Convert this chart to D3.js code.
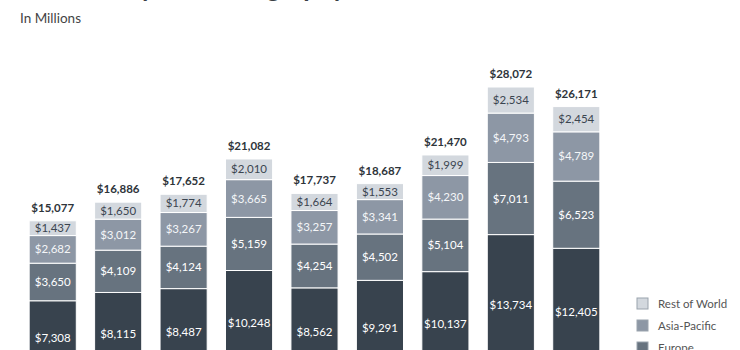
<!DOCTYPE html>
<html>
<head>
	<title>Revenue by User Geography</title>
	<style>
		body { margin: 0; background: #fff; }
		text { font-family: Lato, "Open Sans", sans-serif; }
	</style>
</head>
<body>
	<svg id="container" width="740" height="350">
		<g id="title"></g>
		<g id="body"></g>
		<g id="xAxis"></g>
		<g id="legend"></g>
	</svg>
<script src="https://cdn.jsdelivr.net/npm/d3@7"></script>
<script>
	let quarters = ["Q1'19", "Q2'19", "Q3'19", "Q4'19", "Q1'20", "Q2'20", "Q3'20", "Q4'20", "Q1'21"]
	let usCanada = [7308, 8115, 8487, 10248, 8562, 9291, 10137, 13734, 12405]
	let europe = [3650, 4109, 4124, 5159, 4254, 4502, 5104, 7011, 6523]
	let asiaPacific = [2682, 3012, 3267, 3665, 3257, 3341, 4230, 4793, 4789]
	let restOfWorld = [1437, 1650, 1774, 2010, 1664, 1553, 1999, 2534, 2454]

	let regions = ["US & Canada", "Europe", "Asia-Pacific", "Rest of World"]
	let colors = ["#38434e", "#67737f", "#8d97a5", "#d3d8de"]
	let labelColors = ["#fff", "#fff", "#f4f6f8", "#3b4550"]

	// rows for d3.stack
	let rows = quarters.map((q, i) => ({
		quarter: q,
		"US & Canada": usCanada[i],
		"Europe": europe[i],
		"Asia-Pacific": asiaPacific[i],
		"Rest of World": restOfWorld[i]
	}))
	let totals = rows.map(r => regions.reduce((s, k) => s + r[k], 0))

	let fmt = d => "$" + d3.format(",")(d)

	let x = d3.scaleBand()
		.domain(quarters)
		.range([20, 609])
		.paddingInner(0.28)
		.paddingOuter(0.14)

	// baseline sits below the visible window, like the cropped original
	let y = d3.scaleLinear()
		.domain([0, d3.max(totals)])
		.range([376, 87])

	let color = d3.scaleOrdinal().domain(regions).range(colors)
	let labelColor = d3.scaleOrdinal().domain(regions).range(labelColors)

	let series = d3.stack().keys(regions)(rows)

	// title, only the very bottom of it shows in the crop
	d3.select("#title").append("text")
		.attr("x", 20)
		.attr("y", -3)
		.style("font-size", "26px")
		.style("font-weight", "bold")
		.style("fill", "#3a3f45")
		.text("Revenue by User Geography")

	d3.select("#title").append("text")
		.attr("x", 20)
		.attr("y", 23)
		.style("font-size", "13.5px")
		.style("fill", "#444")
		.text("In Millions")

	let body = d3.select("#body")

	let groups = body.selectAll("g.series")
		.data(series)
		.join("g")
		.attr("class", "series")

	groups.selectAll("rect")
		.data(s => s.map(d => ({key: s.key, d: d})))
		.join("rect")
		.attr("x", p => x(p.d.data.quarter))
		.attr("width", x.bandwidth())
		.attr("y", p => y(p.d[1]))
		.attr("height", p => y(p.d[0]) - y(p.d[1]))
		.style("fill", p => color(p.key))
		.style("stroke", "#fff")
		.style("stroke-width", 1)

	groups.selectAll("text")
		.data(s => s.map(d => ({key: s.key, d: d})))
		.join("text")
		.attr("x", p => x(p.d.data.quarter) + x.bandwidth() / 2)
		.attr("y", p => (y(p.d[0]) + y(p.d[1])) / 2 + 4)
		.attr("text-anchor", "middle")
		.style("font-size", "11.5px")
		.style("fill", p => labelColor(p.key))
		.text(p => fmt(p.d[1] - p.d[0]))

	// totals above each bar
	body.selectAll("text.total")
		.data(rows)
		.join("text")
		.attr("class", "total")
		.attr("x", d => x(d.quarter) + x.bandwidth() / 2)
		.attr("y", (d, i) => y(totals[i]) - 9)
		.attr("text-anchor", "middle")
		.style("font-size", "11.5px")
		.style("font-weight", "bold")
		.style("fill", "#2e343a")
		.text((d, i) => fmt(totals[i]))

	// x axis falls outside the picture, same as the original crop
	let xAxis = d3.axisBottom(x).tickSize(0).tickPadding(10)
	d3.select("#xAxis")
		.attr("transform", "translate(0," + y(0) + ")")
		.call(xAxis)
		.call(g => g.select(".domain").remove())

	// legend, top item first
	let legendItems = regions.slice().reverse()
	let legend = d3.select("#legend")
		.attr("transform", "translate(637,298)")
		.selectAll("g")
		.data(legendItems)
		.join("g")
		.attr("transform", (d, i) => "translate(0," + i * 22 + ")")

	legend.append("rect")
		.attr("width", 11)
		.attr("height", 11)
		.style("fill", d => color(d))
		.style("stroke", "#9aa3ad")
		.style("stroke-width", 1)

	legend.append("text")
		.attr("x", 21)
		.attr("y", 10)
		.style("font-size", "11.5px")
		.style("fill", "#555")
		.text(d => d)
</script>
</body>
</html>
